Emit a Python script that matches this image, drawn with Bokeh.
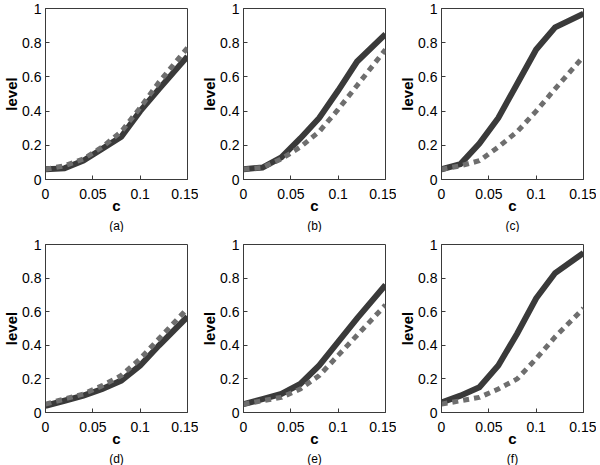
from bokeh.plotting import figure
from bokeh.layouts import gridplot
from bokeh.models import FixedTicker, Title, Range1d
from bokeh.embed import file_html
from bokeh.resources import INLINE

# ---- data ----
c = [0, 0.02, 0.04, 0.06, 0.08, 0.10, 0.12, 0.15]

solid_a = [0.06, 0.065, 0.11, 0.18, 0.25, 0.40, 0.53, 0.72]
dash_a = [0.06, 0.08, 0.12, 0.19, 0.28, 0.42, 0.57, 0.77]

solid_b = [0.06, 0.07, 0.13, 0.24, 0.36, 0.52, 0.69, 0.85]
dash_b = [0.06, 0.07, 0.12, 0.19, 0.28, 0.41, 0.55, 0.76]

solid_c = [0.06, 0.09, 0.21, 0.36, 0.56, 0.76, 0.89, 0.97]
dash_c = [0.06, 0.08, 0.11, 0.19, 0.28, 0.40, 0.53, 0.72]

solid_d = [0.04, 0.07, 0.10, 0.14, 0.19, 0.28, 0.40, 0.57]
dash_d = [0.05, 0.08, 0.11, 0.16, 0.22, 0.32, 0.44, 0.62]

solid_e = [0.05, 0.08, 0.11, 0.17, 0.28, 0.42, 0.56, 0.76]
dash_e = [0.05, 0.07, 0.09, 0.14, 0.22, 0.34, 0.46, 0.64]

solid_f = [0.06, 0.10, 0.15, 0.28, 0.47, 0.68, 0.83, 0.95]
dash_f = [0.05, 0.07, 0.09, 0.14, 0.20, 0.32, 0.45, 0.62]

panel_labels = ["(a)", "(b)", "(c)", "(d)", "(e)", "(f)"]
x_ticks = [0, 0.05, 0.1, 0.15]
x_tick_labels = ["0", "0.05", "0.1", "0.15"]
y_ticks = [0, 0.2, 0.4, 0.6, 0.8, 1]
y_tick_labels = ["0", "0.2", "0.4", "0.6", "0.8", "1"]
x_label = "c"
y_label = "level"

FONT = "Liberation Sans"
AX = "#3a3a3a"

COL_W = [198, 198, 200]
COL_R = [11, 11, 13]
ROW_H = [232, 233]
ROW_T = [8, 12]
ROW_B = [49, 45]


def panel(solid, dashed, label, row, col):
    p = figure(width=COL_W[col], height=ROW_H[row],
               x_range=Range1d(0, 0.15), y_range=Range1d(0, 1),
               output_backend="svg", toolbar_location=None,
               min_border_left=42,
               min_border_right=COL_R[col],
               min_border_top=ROW_T[row],
               min_border_bottom=ROW_B[row],
               background_fill_color="white", border_fill_color="white")
    p.grid.visible = False
    p.outline_line_color = AX
    p.outline_line_width = 1

    p.line(c, solid, line_color="#3a3a3a", line_width=6, line_join="miter")
    p.line(c, dashed, line_color="#6e6e6e", line_width=5,
           line_dash="6 5", line_cap="butt")

    xa = p.xaxis[0]
    xa.ticker = FixedTicker(ticks=x_ticks, minor_ticks=[])
    xa.major_label_overrides = {t: l for t, l in zip(x_ticks, x_tick_labels)}
    ya = p.yaxis[0]
    ya.ticker = FixedTicker(ticks=y_ticks, minor_ticks=[])
    ya.major_label_overrides = {t: l for t, l in zip(y_ticks, y_tick_labels)}
    for ax in (xa, ya):
        ax.major_tick_in = 4
        ax.major_tick_out = 0
        ax.minor_tick_in = 0
        ax.minor_tick_out = 0
        ax.axis_line_color = AX
        ax.major_tick_line_color = AX
        ax.major_label_text_font = FONT
        ax.major_label_text_font_size = "14px"
        ax.major_label_text_color = "black"
        ax.major_label_text_line_height = 1.0
        ax.axis_label_text_font = FONT
        ax.axis_label_text_font_size = "15px"
        ax.axis_label_text_font_style = "bold"
        ax.axis_label_text_color = "black"
        ax.axis_label_text_line_height = 1.0
    xa.axis_label = x_label
    ya.axis_label = y_label
    xa.major_label_standoff = 9
    ya.major_label_standoff = 4
    xa.axis_label_standoff = -5
    ya.axis_label_standoff = -1

    p.add_layout(Title(text=label, align="center", text_font=FONT,
                       text_font_size="12px", text_font_style="normal",
                       text_color="black", text_line_height=0.6,
                       standoff=0), "below")
    return p


solids = [solid_a, solid_b, solid_c, solid_d, solid_e, solid_f]
dashes = [dash_a, dash_b, dash_c, dash_d, dash_e, dash_f]
figs = []
for i in range(6):
    figs.append(panel(solids[i], dashes[i], panel_labels[i], i // 3, i % 3))

grid = gridplot([figs[0:3], figs[3:6]], toolbar_location=None)

open("out.html", "w").write(file_html(grid, INLINE))
